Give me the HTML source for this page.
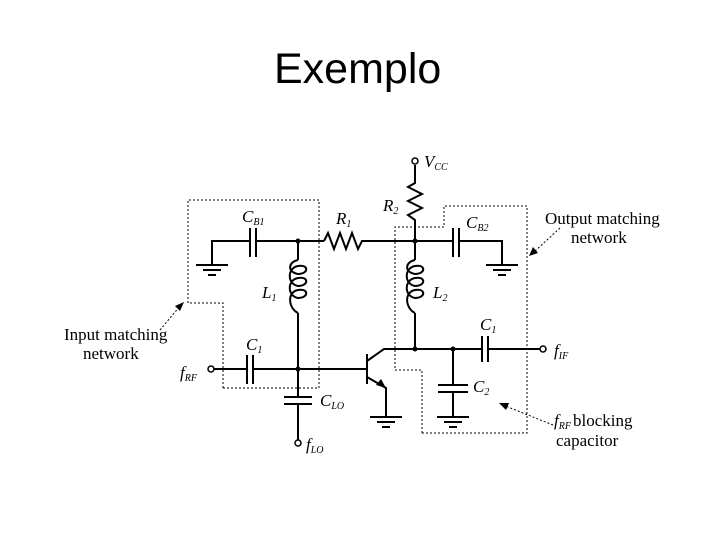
<!DOCTYPE html>
<html><head><meta charset="utf-8"><style>
html,body{margin:0;padding:0;background:#fff;}
svg{display:block}
.s{font-family:"Liberation Serif",serif;}
</style></head><body>
<svg width="720" height="540" viewBox="0 0 720 540" xmlns="http://www.w3.org/2000/svg">
<rect width="720" height="540" fill="#fff"/>
<text x="274" y="83" font-family="Liberation Sans, sans-serif" font-size="43" fill="#000">Exemplo</text>

<g fill="none" stroke="#000" stroke-width="1" stroke-dasharray="2,2">
<polyline points="223,388 223,303 188,303 188,200 319,200 319,388 223,388"/>
<polyline points="422,433 422,370 395,370 395,227 444,227 444,206 527,206 527,433 422,433"/>
<line x1="160" y1="330" x2="180" y2="306"/>
<line x1="560" y1="228" x2="534" y2="252"/>
<line x1="553" y1="425" x2="503" y2="405"/>
</g>
<g fill="#000">
<polygon points="184,302 175,306 180,311"/>
<polygon points="529,256 533,247 538,253"/>
<polygon points="499,403 509,403 506,410"/>
</g>

<g fill="none" stroke="#000" stroke-width="2">
<polyline points="212,265 212,241 250,241"/>
<polyline points="256,241 324,241"/>
<line x1="250" y1="228" x2="250" y2="257"/>
<line x1="256" y1="228" x2="256" y2="257"/>
<polyline points="324,241 328,233 334,249 340,233 346,249 352,233 358,249 362,241 395,241 415,241 453,241"/>
<line x1="453" y1="228" x2="453" y2="257"/>
<line x1="459" y1="228" x2="459" y2="257"/>
<polyline points="459,241 502,241 502,265"/>
<polyline points="415,165 415,183 408,187 422,194 408,201 422,208 408,215 415,220 415,241"/>
<line x1="298" y1="241" x2="298" y2="260"/>
<path d="M298,260 C288,262 287,272 298,274 C309,274 309,264 298,266 C287,268 287,284 298,286 C309,286 309,276 298,278 C287,280 287,296 298,298 C309,298 309,288 298,290 C287,292 288,308 298,313"/>
<line x1="298" y1="313" x2="298" y2="397"/>
<line x1="284" y1="397" x2="312" y2="397"/>
<line x1="284" y1="404" x2="312" y2="404"/>
<line x1="298" y1="404" x2="298" y2="440"/>
<line x1="415" y1="241" x2="415" y2="260"/>
<path d="M415,260 C405,262 404,272 415,274 C426,274 426,264 415,266 C404,268 404,284 415,286 C426,286 426,276 415,278 C404,280 404,296 415,298 C426,298 426,288 415,290 C404,292 405,308 415,313"/>
<line x1="415" y1="313" x2="415" y2="349"/>
<line x1="214" y1="369" x2="247" y2="369"/>
<line x1="247" y1="355" x2="247" y2="384"/>
<line x1="253" y1="355" x2="253" y2="384"/>
<line x1="253" y1="369" x2="367" y2="369"/>
<line x1="367" y1="354" x2="367" y2="384"/>
<polyline points="367,361 384,349 540,349"/>
<polyline points="367,377 386,388 386,417"/>
<line x1="453" y1="349" x2="453" y2="385"/>
<line x1="438" y1="385" x2="468" y2="385"/>
<line x1="438" y1="392" x2="468" y2="392"/>
<line x1="453" y1="392" x2="453" y2="417"/>
<line x1="482" y1="336" x2="482" y2="362"/>
<line x1="488" y1="336" x2="488" y2="362"/>
</g>
<rect x="483" y="347" width="4" height="4" fill="#fff"/>
<polygon points="386,388 376,385 381,379" fill="#000"/>
<g stroke="#000" stroke-width="2">
<line x1="196" y1="265" x2="228" y2="265"/><line x1="203" y1="270" x2="221" y2="270"/><line x1="208" y1="275" x2="216" y2="275"/>
<line x1="486" y1="265" x2="518" y2="265"/><line x1="493" y1="270" x2="511" y2="270"/><line x1="498" y1="275" x2="506" y2="275"/>
<line x1="370" y1="417" x2="402" y2="417"/><line x1="377" y1="422" x2="395" y2="422"/><line x1="382" y1="427" x2="390" y2="427"/>
<line x1="437" y1="417" x2="469" y2="417"/><line x1="444" y1="422" x2="462" y2="422"/><line x1="449" y1="427" x2="457" y2="427"/>
</g>
<g fill="#000">
<circle cx="298" cy="241" r="2.5"/><circle cx="415" cy="241" r="2.5"/>
<circle cx="298" cy="369" r="2.5"/><circle cx="415" cy="349" r="2.5"/><circle cx="453" cy="349" r="2.5"/>
</g>
<g fill="#fff" stroke="#000" stroke-width="1.5">
<circle cx="415" cy="161" r="3"/><circle cx="211" cy="369" r="3"/><circle cx="298" cy="443" r="3"/><circle cx="543" cy="349" r="3"/>
</g>

<g class="s" fill="#000" font-style="italic" font-size="17">
<text x="424" y="167">V<tspan font-size="10" dy="3">CC</tspan></text>
<text x="242" y="222">C<tspan font-size="10" dy="3">B1</tspan></text>
<text x="336" y="224">R<tspan font-size="10" dy="3">1</tspan></text>
<text x="383" y="211">R<tspan font-size="10" dy="3">2</tspan></text>
<text x="466" y="228">C<tspan font-size="10" dy="3">B2</tspan></text>
<text x="262" y="298">L<tspan font-size="10" dy="3">1</tspan></text>
<text x="433" y="298">L<tspan font-size="10" dy="3">2</tspan></text>
<text x="480" y="330">C<tspan font-size="10" dy="3">1</tspan></text>
<text x="246" y="350">C<tspan font-size="10" dy="3">1</tspan></text>
<text x="180" y="378">f<tspan font-size="10" dy="3">RF</tspan></text>
<text x="320" y="406">C<tspan font-size="10" dy="3">LO</tspan></text>
<text x="473" y="392">C<tspan font-size="10" dy="3">2</tspan></text>
<text x="306" y="450">f<tspan font-size="10" dy="3">LO</tspan></text>
<text x="554" y="356">f<tspan font-size="10" dy="3">IF</tspan></text>
<text x="554" y="426">f<tspan font-size="10" dy="3">RF</tspan></text>
</g>
<g class="s" fill="#000" font-size="17">
<text x="545" y="224">Output matching</text>
<text x="571" y="243">network</text>
<text x="64" y="340">Input matching</text>
<text x="83" y="359">network</text>
<text x="573" y="426">blocking</text>
<text x="556" y="446">capacitor</text>
</g>
</svg>
</body></html>
